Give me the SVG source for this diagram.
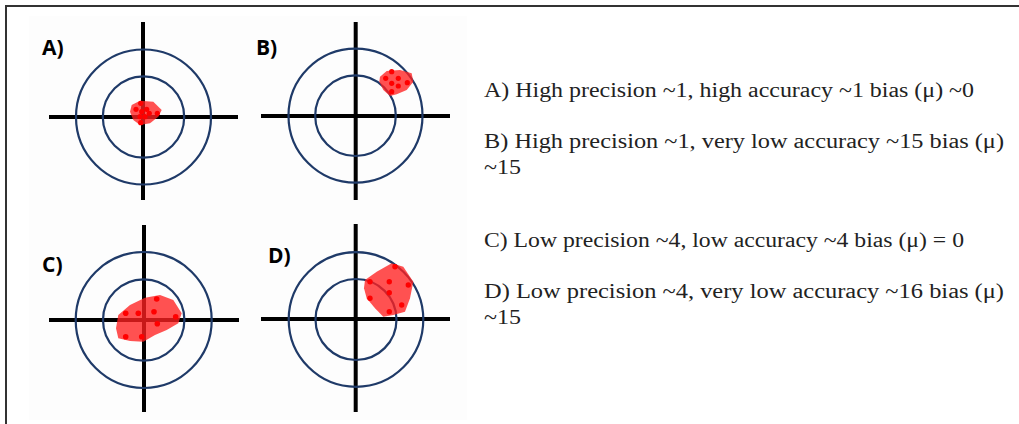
<svg xmlns="http://www.w3.org/2000/svg" width="1019" height="424" viewBox="0 0 1019 424">
<style>
.ring{fill:none;stroke:#1f3a68;stroke-width:2.2}
.cross{stroke:#000;stroke-width:4}
.blob{fill:#ff2020;fill-opacity:0.78;stroke:none}
.dot{fill:#ff0000}
.lbl{font-family:"Open Sans","Liberation Sans",sans-serif;font-weight:bold;font-size:21px;fill:#000}
.txt{font-family:"Liberation Serif","Times New Roman",serif;font-size:20px;fill:#222}
</style>
<rect width="1019" height="424" fill="#fff"/>
<rect x="29" y="16" width="438" height="404" fill="#fdfdfd"/>
<path d="M6 424 V6 H1019" fill="none" stroke="#333" stroke-width="2"/>

<g id="targetA">
<line class="cross" x1="143" y1="22" x2="143" y2="200"/>
<line class="cross" x1="49" y1="117" x2="238" y2="117"/>
<circle class="ring" cx="143.5" cy="117" r="67.5"/>
<circle class="ring" cx="143.5" cy="117" r="40.7"/>
<polygon class="blob" points="131.7,105 140,100.7 153.3,101.7 161.7,110 158.3,116.7 150,123.3 140,125 133.3,120 130,111.7"/>
<circle class="dot" cx="140.7" cy="103.3" r="2.6"/>
<circle class="dot" cx="136" cy="109.3" r="2.6"/>
<circle class="dot" cx="141.7" cy="111.7" r="2.6"/>
<circle class="dot" cx="146.7" cy="109.3" r="2.6"/>
<circle class="dot" cx="149.3" cy="113.3" r="2.6"/>
<circle class="dot" cx="157.3" cy="113.3" r="2.6"/>
<circle class="dot" cx="140" cy="116.7" r="2.6"/>
<circle class="dot" cx="145" cy="116.7" r="2.6"/>
<circle class="dot" cx="140.7" cy="122.7" r="2.6"/>
<text class="lbl" x="42" y="55">A)</text>
</g>

<g id="targetB">
<line class="cross" x1="355.7" y1="22" x2="355.7" y2="200"/>
<line class="cross" x1="261" y1="116" x2="450" y2="116"/>
<circle class="ring" cx="355.5" cy="115.7" r="67"/>
<circle class="ring" cx="355.5" cy="115.7" r="40.3"/>
<polygon class="blob" points="380,76.7 386.7,71 400,70 411.7,73.3 413.3,81.7 406.7,90 396.7,94.3 390,96 383.3,90 379.3,81.7"/>
<circle class="dot" cx="391.7" cy="71.7" r="2.6"/>
<circle class="dot" cx="385.7" cy="78.3" r="2.6"/>
<circle class="dot" cx="398.3" cy="78.3" r="2.6"/>
<circle class="dot" cx="391.7" cy="83.3" r="2.6"/>
<circle class="dot" cx="407.3" cy="82.7" r="2.6"/>
<circle class="dot" cx="398.3" cy="86" r="2.6"/>
<circle class="dot" cx="391.7" cy="91.7" r="2.6"/>
<text class="lbl" x="256" y="55">B)</text>
</g>

<g id="targetC">
<line class="cross" x1="144" y1="225" x2="144" y2="412"/>
<line class="cross" x1="49" y1="320" x2="239" y2="320"/>
<circle class="ring" cx="143.7" cy="320" r="68"/>
<circle class="ring" cx="143.7" cy="320" r="40.7"/>
<polygon class="blob" points="118.3,315 130,305 145,297.7 160,295 173.3,300 181.7,313.3 178.3,323.3 166.7,330 155,335 143.3,341.7 130,341 118.3,338.3 116,328.3"/>
<circle class="dot" cx="125.7" cy="313.3" r="2.8"/>
<circle class="dot" cx="138.3" cy="313.3" r="2.8"/>
<circle class="dot" cx="154" cy="311.7" r="2.8"/>
<circle class="dot" cx="156.7" cy="299" r="2.8"/>
<circle class="dot" cx="175.7" cy="316.7" r="2.8"/>
<circle class="dot" cx="157.3" cy="323.7" r="2.8"/>
<circle class="dot" cx="125.7" cy="336.7" r="2.8"/>
<circle class="dot" cx="141.7" cy="336.7" r="2.8"/>
<text class="lbl" x="42" y="272">C)</text>
</g>

<g id="targetD">
<line class="cross" x1="355.7" y1="224" x2="355.7" y2="412"/>
<line class="cross" x1="261" y1="319" x2="450" y2="319"/>
<circle class="ring" cx="356" cy="319.5" r="67.3"/>
<circle class="ring" cx="356" cy="319.5" r="40.5"/>
<polygon class="blob" points="365,280 376.7,271.7 391.7,263.3 403.3,266.7 413.3,281.7 410,298.3 405,311.7 393.3,315 383.3,316.7 375,308.3 366.7,298.3 364,288.3"/>
<circle class="dot" cx="395" cy="266.7" r="2.7"/>
<circle class="dot" cx="370" cy="281.7" r="2.7"/>
<circle class="dot" cx="389.3" cy="281.7" r="2.7"/>
<circle class="dot" cx="408.3" cy="285" r="2.7"/>
<circle class="dot" cx="389.3" cy="292.7" r="2.7"/>
<circle class="dot" cx="370" cy="298.3" r="2.7"/>
<circle class="dot" cx="401.7" cy="305" r="2.7"/>
<circle class="dot" cx="389.3" cy="311.7" r="2.7"/>
<text class="lbl" x="268" y="263">D)</text>
</g>

<g id="legend">
<text class="txt" x="484" y="96.5" textLength="490" lengthAdjust="spacingAndGlyphs">A) High precision ~1, high accuracy ~1 bias (μ) ~0</text>
<text class="txt" x="484" y="147.5" textLength="520" lengthAdjust="spacingAndGlyphs">B) High precision ~1, very low accuracy ~15 bias (μ)</text>
<text class="txt" x="484" y="174" textLength="37" lengthAdjust="spacingAndGlyphs">~15</text>
<text class="txt" x="484" y="246.8" textLength="480" lengthAdjust="spacingAndGlyphs">C) Low precision ~4, low accuracy ~4 bias (μ) = 0</text>
<text class="txt" x="484" y="297.5" textLength="520" lengthAdjust="spacingAndGlyphs">D) Low precision ~4, very low accuracy ~16 bias (μ)</text>
<text class="txt" x="484" y="323.8" textLength="37" lengthAdjust="spacingAndGlyphs">~15</text>
</g>
<g id="connectors"/>
</svg>
